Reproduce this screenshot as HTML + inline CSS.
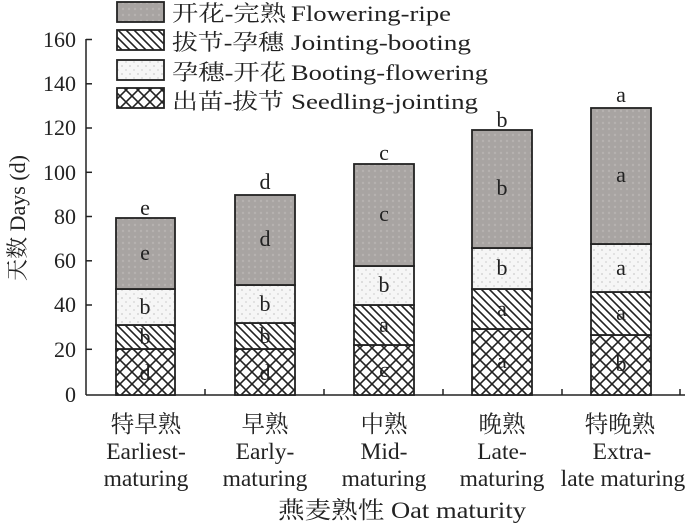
<!DOCTYPE html>
<html><head><meta charset="utf-8"><style>
html,body{margin:0;padding:0;background:#fff;}
svg{display:block;}
text{font-family:"Liberation Serif","Noto Serif CJK SC",serif;fill:#222;}
</style></head><body>
<svg width="687" height="525" viewBox="0 0 687 525" xmlns="http://www.w3.org/2000/svg">
<defs>
<pattern id="cross" width="12" height="12" patternUnits="userSpaceOnUse">
<rect width="12" height="12" fill="#fff"/>
<path d="M0 0L12 12M12 0L0 12M-6 6L6 18M6 -6L18 6M6 18L18 6M-6 6L6 -6" stroke="#222" stroke-width="1.6"/>
</pattern>
<pattern id="diag" width="8" height="8" patternUnits="userSpaceOnUse">
<rect width="8" height="8" fill="#fff"/>
<path d="M0 0L8 8M-4 4L4 12M4 -4L12 4" stroke="#222" stroke-width="1.6"/>
</pattern>
<pattern id="dots" width="8" height="8" patternUnits="userSpaceOnUse">
<rect width="8" height="8" fill="#f6f6f6"/>
<rect x="1" y="1" width="2" height="2" fill="#ddd"/><rect x="5" y="5" width="2" height="2" fill="#e2e2e2"/>
</pattern>
<pattern id="gray" width="6" height="6" patternUnits="userSpaceOnUse">
<rect width="6" height="6" fill="#a8a4a2"/>
<circle cx="3" cy="3" r="1.2" fill="#b6b2b0"/>
</pattern>
</defs>

<g stroke="#222" stroke-width="1.5" fill="none">
<line x1="86" y1="39" x2="86" y2="395"/>
<line x1="86" y1="395" x2="685" y2="395"/>
<line x1="86" y1="39.5" x2="92" y2="39.5"/>
<line x1="86" y1="83.8" x2="92" y2="83.8"/>
<line x1="86" y1="128" x2="92" y2="128"/>
<line x1="86" y1="172.3" x2="92" y2="172.3"/>
<line x1="86" y1="216.5" x2="92" y2="216.5"/>
<line x1="86" y1="260.8" x2="92" y2="260.8"/>
<line x1="86" y1="305" x2="92" y2="305"/>
<line x1="86" y1="349.3" x2="92" y2="349.3"/>
<line x1="205" y1="395" x2="205" y2="389"/>
<line x1="324" y1="395" x2="324" y2="389"/>
<line x1="443" y1="395" x2="443" y2="389"/>
<line x1="562" y1="395" x2="562" y2="389"/>
<line x1="680" y1="395" x2="680" y2="389"/>
</g>
<g font-size="22" text-anchor="end">
<text x="76" y="47">160</text><text x="76" y="91">140</text><text x="76" y="135">120</text>
<text x="76" y="180">100</text><text x="76" y="224">80</text><text x="76" y="268">60</text>
<text x="76" y="312">40</text><text x="76" y="357">20</text><text x="76" y="402">0</text>
</g>
<text transform="translate(25,218) rotate(-90)" font-size="22" text-anchor="middle">天数 Days (d)</text>

<g stroke="#222" stroke-width="1.8">
<rect x="116" y="349" width="59" height="46" fill="url(#cross)"/>
<rect x="116" y="325" width="59" height="24" fill="url(#diag)"/>
<rect x="116" y="289" width="59" height="36" fill="url(#dots)"/>
<rect x="116" y="218" width="59" height="71" fill="url(#gray)"/>

<rect x="235" y="349" width="60" height="46" fill="url(#cross)"/>
<rect x="235" y="323" width="60" height="26" fill="url(#diag)"/>
<rect x="235" y="285" width="60" height="38" fill="url(#dots)"/>
<rect x="235" y="195" width="60" height="90" fill="url(#gray)"/>

<rect x="354" y="345" width="60" height="50" fill="url(#cross)"/>
<rect x="354" y="305" width="60" height="40" fill="url(#diag)"/>
<rect x="354" y="266" width="60" height="39" fill="url(#dots)"/>
<rect x="354" y="164" width="60" height="102" fill="url(#gray)"/>

<rect x="472" y="329" width="60" height="66" fill="url(#cross)"/>
<rect x="472" y="289" width="60" height="40" fill="url(#diag)"/>
<rect x="472" y="248" width="60" height="41" fill="url(#dots)"/>
<rect x="472" y="130" width="60" height="118" fill="url(#gray)"/>

<rect x="591" y="335" width="60" height="60" fill="url(#cross)"/>
<rect x="591" y="292" width="60" height="43" fill="url(#diag)"/>
<rect x="591" y="244" width="60" height="48" fill="url(#dots)"/>
<rect x="591" y="108" width="60" height="136" fill="url(#gray)"/>
</g>

<g font-size="22" text-anchor="middle">
<text x="145" y="380">d</text><text x="145" y="344">b</text><text x="145" y="314">b</text><text x="145" y="260">e</text><text x="145" y="215">e</text>
<text x="265" y="380">d</text><text x="265" y="343">b</text><text x="265" y="311">b</text><text x="265" y="246">d</text><text x="265" y="189">d</text>
<text x="384" y="377">c</text><text x="384" y="332">a</text><text x="384" y="292">b</text><text x="384" y="221">c</text><text x="384" y="160">c</text>
<text x="502" y="368">a</text><text x="502" y="316">a</text><text x="502" y="275">b</text><text x="502" y="195">b</text><text x="502" y="127">b</text>
<text x="621" y="371">b</text><text x="621" y="320">a</text><text x="621" y="275">a</text><text x="621" y="182">a</text><text x="621" y="102">a</text>
</g>

<g stroke="#222" stroke-width="1.8">
<rect x="117" y="2" width="47" height="20" fill="url(#gray)"/>
<rect x="117" y="30" width="47" height="20" fill="url(#diag)"/>
<rect x="117" y="60" width="47" height="20" fill="url(#dots)"/>
<rect x="117" y="88" width="47" height="20" fill="url(#cross)"/>
</g>
<g font-size="22">
<text x="172" y="21" textLength="114" lengthAdjust="spacingAndGlyphs">开花-完熟</text>
<text x="291" y="21" textLength="160" lengthAdjust="spacingAndGlyphs">Flowering-ripe</text>
<text x="172" y="50" textLength="112" lengthAdjust="spacingAndGlyphs">拔节-孕穗</text>
<text x="291" y="50" textLength="180" lengthAdjust="spacingAndGlyphs">Jointing-booting</text>
<text x="172" y="80" textLength="114" lengthAdjust="spacingAndGlyphs">孕穗-开花</text>
<text x="291" y="80" textLength="197" lengthAdjust="spacingAndGlyphs">Booting-flowering</text>
<text x="172" y="109" textLength="112" lengthAdjust="spacingAndGlyphs">出苗-拔节</text>
<text x="291" y="109" textLength="187" lengthAdjust="spacingAndGlyphs">Seedling-jointing</text>
</g>

<g font-size="23.5" text-anchor="middle">
<text x="146" y="432">特早熟</text><text x="146" y="459">Earliest-</text><text x="146" y="486">maturing</text>
<text x="265" y="432">早熟</text><text x="265" y="459">Early-</text><text x="265" y="486">maturing</text>
<text x="384" y="432">中熟</text><text x="384" y="459">Mid-</text><text x="384" y="486">maturing</text>
<text x="502" y="432">晚熟</text><text x="502" y="459">Late-</text><text x="502" y="486">maturing</text>
<text x="620" y="432">特晚熟</text><text x="622" y="459">Extra-</text><text x="623" y="486">late maturing</text>
</g>
<text x="278" y="518" font-size="23.5" textLength="248" lengthAdjust="spacingAndGlyphs">燕麦熟性 Oat maturity</text>
</svg>
</body></html>
